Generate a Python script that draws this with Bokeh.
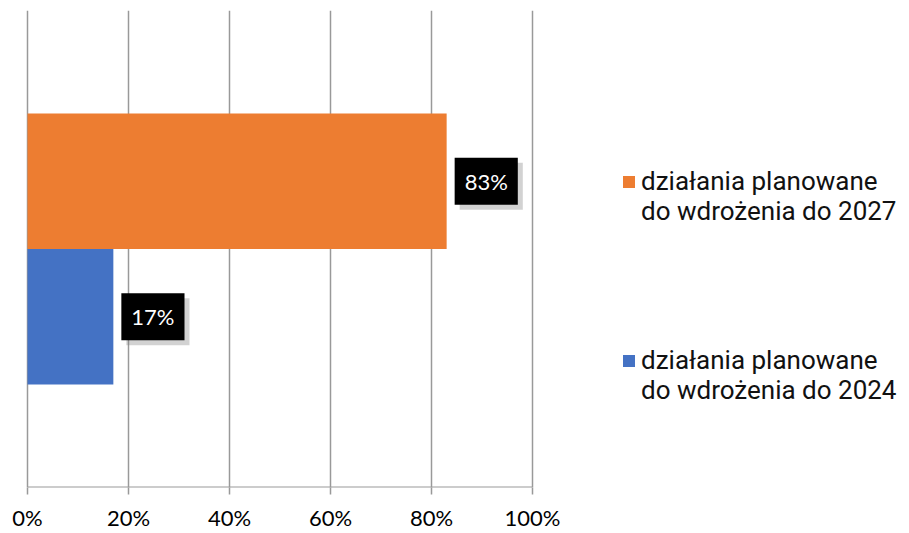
from bokeh.plotting import figure
from bokeh.models import FactorRange, Range1d, Legend, LegendItem, ColumnDataSource, FixedTicker
from bokeh.transform import dodge
from bokeh.core.properties import value
from bokeh.embed import file_html
from bokeh.resources import INLINE

categories = [""]
series_names = [["działania planowane", "do wdrożenia do 2027"],
                ["działania planowane", "do wdrożenia do 2024"]]
values_2027 = [83]
values_2024 = [17]
series_colors = ["#ED7D31", "#4472C4"]
x_ticks = [0, 20, 40, 60, 80, 100]
x_tick_labels = ["0%", "20%", "40%", "60%", "80%", "100%"]

# frame covers the whole width; value axis 0..100 mapped to px 27..532
W, H = 909, 533
ax_left, ax_right = 27, 532
ppu = (ax_right - ax_left) / 100.0
x_start = -ax_left / ppu
x_end = (W - ax_left) / ppu

p = figure(width=W, height=H, output_backend="svg", toolbar_location=None,
           x_range=Range1d(x_start, x_end), y_range=FactorRange(factors=categories, range_padding=0),
           min_border_left=0, min_border_right=0, min_border_top=10, min_border_bottom=44)
p.outline_line_color = None
p.background_fill_color = "white"
p.yaxis.visible = False
p.ygrid.visible = False

p.xaxis.ticker = FixedTicker(ticks=x_ticks)
p.xaxis.major_label_overrides = {t: l for t, l in zip(x_ticks, x_tick_labels)}
p.xaxis.major_label_text_font = "Lato"
p.xaxis.major_label_text_font_size = "22px"
p.xaxis.major_label_text_color = "black"
p.xaxis.major_label_standoff = 9
p.xaxis.major_tick_out = 7
p.xaxis.major_tick_in = 0
p.xaxis.minor_tick_line_color = None
p.xaxis.axis_line_color = None
p.xaxis.major_tick_line_color = "#999999"
p.xaxis.major_tick_line_width = 1.5
p.xgrid.grid_line_color = "#999999"
p.xgrid.grid_line_width = 1.5

# axis baseline only across the value range
base_src = ColumnDataSource(dict(cat=categories, x0=[x_ticks[0]], x1=[x_ticks[-1]]))
p.segment(x0="x0", x1="x1",
          y0=dodge("cat", -0.5, range=p.y_range), y1=dodge("cat", -0.5, range=p.y_range),
          source=base_src, line_color="#999999", line_width=2)

bar_h = 0.284
src = ColumnDataSource(dict(cat=categories, v27=values_2027, v24=values_2024,
                            l27=[f"{v}%" for v in values_2027],
                            l24=[f"{v}%" for v in values_2024]))

r27 = p.hbar(y=dodge("cat", bar_h / 2, range=p.y_range), left=0, right="v27", height=bar_h,
             source=src, fill_color=series_colors[0], line_color=None)
r24 = p.hbar(y=dodge("cat", -bar_h / 2, range=p.y_range), left=0, right="v24", height=bar_h,
             source=src, fill_color=series_colors[1], line_color=None)
# invisible helper renderer for legend rows without a swatch
r_blank = p.hbar(y=dodge("cat", 0, range=p.y_range), left=0, right="v24", height=bar_h,
                 source=src, fill_alpha=0, line_color=None, visible=False)

for col, lab, off in (("v27", "l27", bar_h / 2), ("v24", "l24", -bar_h / 2)):
    # shadow
    p.text(x=col, y=dodge("cat", off, range=p.y_range), text=lab, source=src,
           x_offset=13, y_offset=5, text_align="left", text_baseline="middle",
           text_font=value("Lato"), text_font_size="22px", text_alpha=0,
           background_fill_color="#7f7f7f", background_fill_alpha=0.35, padding=10)
    p.text(x=col, y=dodge("cat", off, range=p.y_range), text=lab, source=src,
           x_offset=8, y_offset=0, text_align="left", text_baseline="middle",
           text_font=value("Lato"), text_font_size="22px", text_color="white",
           background_fill_color="black", padding=10)

for r, names, vy in ((r27, series_names[0], 261), (r24, series_names[1], 82)):
    lg = Legend(items=[LegendItem(label=names[0], renderers=[r]),
                       LegendItem(label=names[1], renderers=[r_blank])],
                location=(621, vy),
                padding=0, margin=0, spacing=0, border_line_color=None, background_fill_alpha=0,
                glyph_width=15, glyph_height=15, label_standoff=5,
                label_text_font="Roboto", label_text_font_size="26px",
                label_text_color="#111111")
    p.add_layout(lg, "center")

open("out.html", "w").write(file_html(p, INLINE))
